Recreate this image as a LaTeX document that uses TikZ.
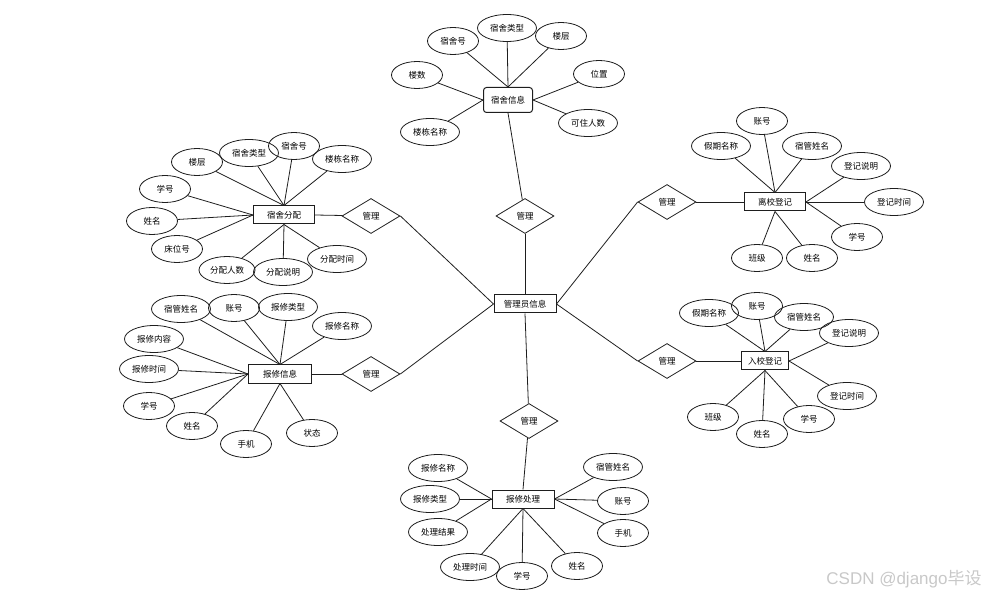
\documentclass[tikz,border=0pt]{standalone}
\usepackage{fontspec}
\setmainfont{Liberation Sans}
\newfontfamily\cjk{Noto Sans CJK SC}
\usepackage{tikz}
\usetikzlibrary{shapes.geometric}
\usepackage{xcolor}
\definecolor{erline}{RGB}{30,30,30}
\definecolor{wmgray}{RGB}{200,200,200}
\tikzstyle{entbox} = [rectangle, draw=erline, line width=1pt, minimum width=61pt, minimum height=18pt, inner sep=0pt, font=\cjk\fontsize{8.5}{9}\selectfont]
\tikzstyle{attr} = [ellipse, draw=erline, line width=0.8pt, minimum width=51pt, minimum height=27pt, inner sep=0pt, font=\cjk\fontsize{8.5}{9}\selectfont]
\tikzstyle{wide} = [minimum width=59pt]
\tikzstyle{rel} = [diamond, draw=erline, line width=0.8pt, minimum width=58pt, minimum height=35pt, inner sep=0pt, font=\cjk\fontsize{8.5}{9}\selectfont]
\tikzstyle{link} = [line width=0.8pt, color=erline]

\begin{document}
\begin{tikzpicture}[x=1pt, y=-1pt]
\useasboundingbox (0,0) rectangle (989,596);

% Centre entity and relations
\node[entbox, minimum width=62pt] (admin) at (525,304) {管理员信息};
\node[rel] (rtop) at (525,216) {管理};
\node[rel] (rlu) at (371,216) {管理};
\node[rel] (rll) at (371,374) {管理};
\node[rel] (rru) at (667,202) {管理};
\node[rel] (rrl) at (667,361) {管理};
\node[rel] (rbot) at (529,421) {管理};

% Entities
\node[entbox, rounded corners=3pt, minimum width=49pt, minimum height=25pt] (dorm) at (508,100) {宿舍信息};
\node[entbox] (asg) at (284,215) {宿舍分配};
\node[entbox, minimum width=63pt] (rinfo) at (280,374) {报修信息};
\node[entbox, minimum width=62pt] (rproc) at (523,499) {报修处理};
\node[entbox] (leave) at (775,202) {离校登记};
\node[entbox, minimum width=47pt] (enter) at (765,361) {入校登记};

% Dorm info attributes
\node[attr] (d1) at (453,41) {宿舍号};
\node[attr, wide] (d2) at (507,28) {宿舍类型};
\node[attr] (d3) at (561,36) {楼层};
\node[attr] (d4) at (599,74) {位置};
\node[attr, wide] (d5) at (588,123) {可住人数};
\node[attr] (d6) at (417,75) {楼数};
\node[attr, wide] (d7) at (430,132) {楼栋名称};

% Dorm assignment attributes
\node[attr] (a1) at (197,162) {楼层};
\node[attr, wide] (a2) at (249,153) {宿舍类型};
\node[attr] (a3) at (294,146) {宿舍号};
\node[attr, wide] (a4) at (342,159) {楼栋名称};
\node[attr] (a5) at (165,189) {学号};
\node[attr] (a6) at (152,221) {姓名};
\node[attr] (a7) at (177,249) {床位号};
\node[attr, wide, minimum width=56pt] (a8) at (227,270) {分配人数};
\node[attr, wide] (a9) at (283,272) {分配说明};
\node[attr, wide] (a10) at (337,259) {分配时间};

% Repair info attributes
\node[attr, wide] (i1) at (181,309) {宿管姓名};
\node[attr] (i2) at (234,308) {账号};
\node[attr, wide] (i3) at (288,307) {报修类型};
\node[attr, wide] (i4) at (342,326) {报修名称};
\node[attr, wide] (i5) at (154,339) {报修内容};
\node[attr, wide] (i6) at (149,369) {报修时间};
\node[attr] (i7) at (149,406) {学号};
\node[attr] (i8) at (192,426) {姓名};
\node[attr] (i9) at (246,444) {手机};
\node[attr] (i10) at (312,433) {状态};

% Repair handling attributes
\node[attr, wide] (p1) at (438,468) {报修名称};
\node[attr, wide] (p2) at (430,499) {报修类型};
\node[attr, wide] (p3) at (438,532) {处理结果};
\node[attr, wide] (p4) at (470,567) {处理时间};
\node[attr] (p5) at (522,576) {学号};
\node[attr] (p6) at (577,566) {姓名};
\node[attr, wide] (p7) at (613,467) {宿管姓名};
\node[attr] (p8) at (623,501) {账号};
\node[attr] (p9) at (623,533) {手机};

% Leave registration attributes
\node[attr] (l1) at (762,121) {账号};
\node[attr, wide] (l2) at (721,146) {假期名称};
\node[attr, wide] (l3) at (812,146) {宿管姓名};
\node[attr, wide] (l4) at (861,166) {登记说明};
\node[attr, wide] (l5) at (894,202) {登记时间};
\node[attr] (l6) at (857,237) {学号};
\node[attr] (l7) at (812,258) {姓名};
\node[attr] (l8) at (757,258) {班级};

% Return registration attributes
\node[attr, wide] (e1) at (709,313) {假期名称};
\node[attr] (e2) at (757,306) {账号};
\node[attr, wide] (e3) at (804,317) {宿管姓名};
\node[attr, wide] (e4) at (849,333) {登记说明};
\node[attr, wide] (e5) at (847,396) {登记时间};
\node[attr] (e6) at (809,419) {学号};
\node[attr] (e7) at (762,434) {姓名};
\node[attr] (e8) at (713,417) {班级};

% Relation links
\draw[link] (admin.north) -- (rtop);
\draw[link] (rtop) -- (dorm.south);
\draw[link] (admin.west) -- (rlu.east);
\draw[link] (rlu) -- (asg.east);
\draw[link] (admin.west) -- (rll.east);
\draw[link] (rll) -- (rinfo.east);
\draw[link] (admin.east) -- (rru.west);
\draw[link] (rru) -- (leave.west);
\draw[link] (admin.east) -- (rrl.west);
\draw[link] (rrl) -- (enter.west);
\draw[link] (admin.south) -- (rbot);
\draw[link] (rbot) -- (rproc.north);

% Attribute links
\draw[link] (d1) -- (dorm.north);
\draw[link] (d2) -- (dorm.north);
\draw[link] (d3) -- (dorm.north);
\draw[link] (d4) -- (dorm.east);
\draw[link] (d5) -- (dorm.east);
\draw[link] (d6) -- (dorm.west);
\draw[link] (d7) -- (dorm.west);

\draw[link] (a1) -- (asg.north);
\draw[link] (a2) -- (asg.north);
\draw[link] (a3) -- (asg.north);
\draw[link] (a4) -- (asg.north);
\draw[link] (a5) -- (asg.west);
\draw[link] (a6) -- (asg.west);
\draw[link] (a7) -- (asg.west);
\draw[link] (a8) -- (asg.south);
\draw[link] (a9) -- (asg.south);
\draw[link] (a10) -- (asg.south);

\draw[link] (i1) -- (rinfo.north);
\draw[link] (i2) -- (rinfo.north);
\draw[link] (i3) -- (rinfo.north);
\draw[link] (i4) -- (rinfo.north);
\draw[link] (i5) -- (rinfo.west);
\draw[link] (i6) -- (rinfo.west);
\draw[link] (i7) -- (rinfo.west);
\draw[link] (i8) -- (rinfo.west);
\draw[link] (i9) -- (rinfo.south);
\draw[link] (i10) -- (rinfo.south);

\draw[link] (p1) -- (rproc.west);
\draw[link] (p2) -- (rproc.west);
\draw[link] (p3) -- (rproc.west);
\draw[link] (p4) -- (rproc.south);
\draw[link] (p5) -- (rproc.south);
\draw[link] (p6) -- (rproc.south);
\draw[link] (p7) -- (rproc.east);
\draw[link] (p8) -- (rproc.east);
\draw[link] (p9) -- (rproc.east);

\draw[link] (l1) -- (leave.north);
\draw[link] (l2) -- (leave.north);
\draw[link] (l3) -- (leave.north);
\draw[link] (l4) -- (leave.east);
\draw[link] (l5) -- (leave.east);
\draw[link] (l6) -- (leave.east);
\draw[link] (l7) -- (leave.south);
\draw[link] (l8) -- (leave.south);

\draw[link] (e1) -- (enter.north);
\draw[link] (e2) -- (enter.north);
\draw[link] (e3) -- (enter.north);
\draw[link] (e4) -- (enter.east);
\draw[link] (e5) -- (enter.east);
\draw[link] (e6) -- (enter.south);
\draw[link] (e7) -- (enter.south);
\draw[link] (e8) -- (enter.south);

% Watermark
\node[text=wmgray, font=\fontsize{17}{18}\selectfont, inner sep=0pt] (wm) at (904,579) {CSDN @django{\cjk 毕设}};
\end{tikzpicture}
\end{document}
